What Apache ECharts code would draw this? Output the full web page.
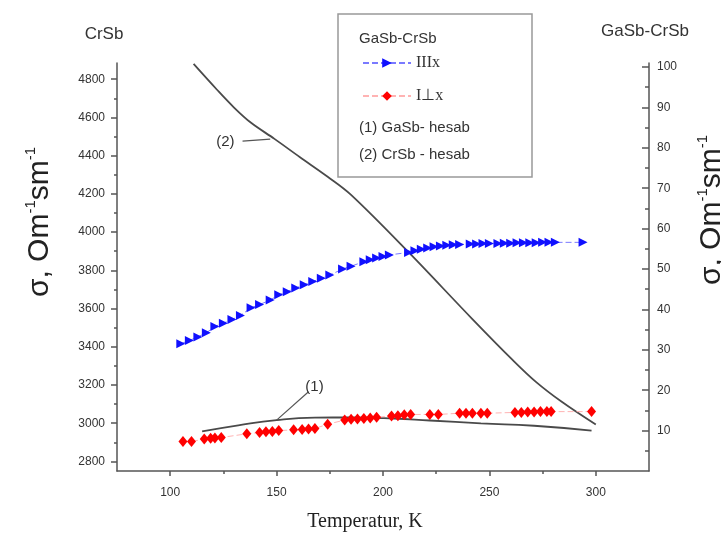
<!DOCTYPE html>
<html>
<head>
<meta charset="utf-8">
<script src="https://cdn.jsdelivr.net/npm/echarts@6/dist/echarts.min.js"></script>
<style>
  html, body { margin: 0; padding: 0; background: #fff; }
  #chart { width: 721px; height: 540px; }
</style>
</head>
<body>
<div id="chart"></div>
<script>
// temperature axis ticks
const xTicks = [100, 150, 200, 250, 300];
const xMinorTicks = [125, 175, 225, 275];
// left axis (CrSb)
const leftTicks = [2800, 3000, 3200, 3400, 3600, 3800, 4000, 4200, 4400, 4600, 4800];
const leftMinorTicks = [2900, 3100, 3300, 3500, 3700, 3900, 4100, 4300, 4500, 4700];
// right axis (GaSb-CrSb)
const rightTicks = [10, 20, 30, 40, 50, 60, 70, 80, 90, 100];
const rightMinorTicks = [5, 15, 25, 35, 45, 55, 65, 75, 85, 95];

// IIIx (blue triangles)
const tBlue = [105, 109, 113, 117, 121, 125, 129, 133, 138, 142, 147, 151, 155, 159, 163, 167, 171, 175,
  181, 185, 191, 194, 197, 200, 203, 212, 215, 218, 221, 224, 227, 230, 233, 236,
  241, 244, 247, 250, 254, 257, 260, 263, 266, 269, 272, 275, 278, 281, 294];
const sBlue = [31.5, 32.3, 33.2, 34.2, 35.8, 36.6, 37.5, 38.5, 40.4, 41.2, 42.3, 43.6, 44.4, 45.3, 46.1, 46.9, 47.7, 48.5,
  50.0, 50.7, 51.8, 52.3, 52.7, 53.1, 53.5, 54.1, 54.5, 54.9, 55.2, 55.5, 55.7, 55.9, 56.0, 56.1,
  56.2, 56.2, 56.3, 56.3, 56.3, 56.4, 56.4, 56.5, 56.5, 56.5, 56.5, 56.6, 56.6, 56.6, 56.6];

// I⊥x (red diamonds)
const tRed = [106, 110, 116, 119, 121, 124, 136, 142, 145, 148, 151, 158, 162, 165, 168, 174,
  182, 185, 188, 191, 194, 197, 204, 207, 210, 213, 222, 226, 236, 239, 242, 246, 249,
  262, 265, 268, 271, 274, 277, 279, 298];
const sRed = [7.3, 7.3, 7.9, 8.1, 8.2, 8.3, 9.2, 9.5, 9.7, 9.8, 10.0, 10.2, 10.3, 10.4, 10.5, 11.6,
  12.6, 12.8, 12.9, 13.0, 13.1, 13.3, 13.6, 13.7, 13.9, 14.0, 14.0, 14.0, 14.3, 14.3, 14.3, 14.3, 14.3,
  14.5, 14.5, 14.6, 14.6, 14.7, 14.7, 14.7, 14.7];

// (1) GaSb - hesab (right axis)
const tCalc1 = [115, 132, 150, 168, 185, 205, 222, 246, 271, 298];
const sCalc1 = [9.8, 11.3, 12.6, 13.2, 13.25, 13.0, 12.5, 11.8, 11.2, 10.0];

// (2) CrSb - hesab (left axis)
const tCalc2 = [111, 122, 130, 138, 149, 161, 174, 185, 212, 242, 261, 272, 284, 300];
const sCalc2 = [4880, 4745, 4652, 4572, 4488, 4392, 4290, 4195, 3895, 3545, 3330, 3215, 3112, 2993];

// annotation pointers
const pointer1 = [[150, 12.6], [165, 19.6]];
const pointer2 = [[134, 4476], [147, 4487]];

const zip = (a, b) => a.map((v, i) => [v, b[i]]);

const axisColor = '#555';
const labelStyle = { fontSize: 12, color: '#333', fontFamily: 'Liberation Sans', formatter: v => String(v) };

const chart = echarts.init(document.getElementById('chart'));

const option = {
  animation: false,
  grid: { left: 117, right: 72, top: 63, bottom: 69 },
  legend: {
    data: ['IIIx', 'I⊥x'],
    orient: 'vertical',
    left: 357,
    top: 50,
    itemWidth: 48,
    itemHeight: 12,
    itemGap: 17,
    textStyle: { fontFamily: 'Liberation Serif', fontSize: 16, color: '#333' }
  },
  xAxis: [
    {
      type: 'value', min: 75, max: 325, position: 'bottom',
      axisLine: { onZero: false, lineStyle: { color: axisColor, width: 1.5 } },
      axisTick: { customValues: xTicks, length: 5, lineStyle: { color: axisColor, width: 1.5 } },
      axisLabel: Object.assign({ customValues: xTicks, margin: 16 }, labelStyle),
      splitLine: { show: false }
    },
    {
      type: 'value', min: 75, max: 325, position: 'bottom',
      axisLine: { show: false, onZero: false },
      axisTick: { customValues: xMinorTicks, length: 3, lineStyle: { color: axisColor, width: 1.5 } },
      axisLabel: { show: false },
      splitLine: { show: false }
    }
  ],
  yAxis: [
    {
      type: 'value', min: 2750, max: 4885, position: 'left',
      axisLine: { show: true, onZero: false, lineStyle: { color: axisColor, width: 1.5 } },
      axisTick: { customValues: leftTicks, length: 6, lineStyle: { color: axisColor, width: 1.5 } },
      axisLabel: Object.assign({ customValues: leftTicks, margin: 12 }, labelStyle),
      splitLine: { show: false }
    },
    {
      type: 'value', min: 2750, max: 4885, position: 'left',
      axisLine: { show: false, onZero: false },
      axisTick: { customValues: leftMinorTicks, length: 3, lineStyle: { color: axisColor, width: 1.5 } },
      axisLabel: { show: false },
      splitLine: { show: false }
    },
    {
      type: 'value', min: 0, max: 101, position: 'right',
      axisLine: { show: true, onZero: false, lineStyle: { color: axisColor, width: 1.5 } },
      axisTick: { inside: true, customValues: rightTicks, length: 7, lineStyle: { color: axisColor, width: 1.5 } },
      axisLabel: Object.assign({ customValues: rightTicks, margin: 8 }, labelStyle),
      splitLine: { show: false }
    },
    {
      type: 'value', min: 0, max: 101, position: 'right',
      axisLine: { show: false, onZero: false },
      axisTick: { inside: true, customValues: rightMinorTicks, length: 4, lineStyle: { color: axisColor, width: 1.5 } },
      axisLabel: { show: false },
      splitLine: { show: false }
    }
  ],
  graphic: [
    { type: 'rect', shape: { x: 338, y: 14, width: 194, height: 163 },
      style: { fill: 'none', stroke: '#999', lineWidth: 1.5 } },
    { type: 'text', x: 359, y: 39, style: { text: 'GaSb-CrSb', fontSize: 15, fill: '#333', fontFamily: 'Liberation Sans', verticalAlign: 'middle' } },
    { type: 'text', x: 359, y: 128, style: { text: '(1) GaSb- hesab', fontSize: 15, fill: '#333', fontFamily: 'Liberation Sans', verticalAlign: 'middle' } },
    { type: 'text', x: 359, y: 155, style: { text: '(2) CrSb - hesab', fontSize: 15, fill: '#333', fontFamily: 'Liberation Sans', verticalAlign: 'middle' } },
    { type: 'text', x: 104, y: 34, style: { text: 'CrSb', fontSize: 17, fill: '#333', fontFamily: 'Liberation Sans', align: 'center', verticalAlign: 'middle' } },
    { type: 'text', x: 645, y: 31, style: { text: 'GaSb-CrSb', fontSize: 17, fill: '#333', fontFamily: 'Liberation Sans', align: 'center', verticalAlign: 'middle' } },
    { type: 'text', x: 365, y: 522, style: { text: 'Temperatur, K', fontSize: 20, fill: '#222', fontFamily: 'Liberation Serif', align: 'center', verticalAlign: 'middle' } },
    { type: 'text', x: 40, y: 222, rotation: Math.PI / 2,
      style: { text: '{a|σ, Om}{s|-1}{a|sm}{s|-1}', align: 'center', verticalAlign: 'middle',
        rich: { a: { fontSize: 30, fill: '#222', fontFamily: 'Liberation Sans', lineHeight: 34 },
                s: { fontSize: 15, fill: '#222', fontFamily: 'Liberation Sans', verticalAlign: 'top', lineHeight: 34 } } } },
    { type: 'text', x: 712, y: 210, rotation: Math.PI / 2,
      style: { text: '{a|σ, Om}{s|-1}{a|sm}{s|-1}', align: 'center', verticalAlign: 'middle',
        rich: { a: { fontSize: 30, fill: '#222', fontFamily: 'Liberation Sans', lineHeight: 34 },
                s: { fontSize: 15, fill: '#222', fontFamily: 'Liberation Sans', verticalAlign: 'top', lineHeight: 34 } } } }
  ],
  series: [
    {
      name: 'IIIx', type: 'line', xAxisIndex: 0, yAxisIndex: 2,
      data: zip(tBlue, sBlue),
      symbol: 'triangle', symbolSize: 9, symbolRotate: -90,
      itemStyle: { color: '#1010ff' },
      lineStyle: { color: '#7a7aff', width: 1, type: [6, 3] },
      z: 3
    },
    {
      name: 'I⊥x', type: 'line', xAxisIndex: 0, yAxisIndex: 2,
      data: zip(tRed, sRed),
      symbol: 'diamond', symbolSize: [9, 11],
      itemStyle: { color: '#ff0000' },
      lineStyle: { color: '#ffb3b3', width: 1, type: [6, 3] },
      z: 3
    },
    {
      name: '(1) GaSb- hesab', type: 'line', xAxisIndex: 0, yAxisIndex: 2,
      data: zip(tCalc1, sCalc1), smooth: 0.5, showSymbol: false, symbol: 'none',
      lineStyle: { color: '#4a4a4a', width: 1.8 },
      markLine: {
        silent: true, symbol: 'none', animation: false,
        lineStyle: { color: '#555', width: 1.2, type: 'solid' },
        label: { show: true, position: 'end', formatter: '(1)', fontSize: 15, color: '#333', fontFamily: 'Liberation Sans', distance: 8 },
        data: [[{ coord: pointer1[0] }, { coord: pointer1[1] }]]
      },
      z: 2
    },
    {
      name: '(2) CrSb - hesab', type: 'line', xAxisIndex: 0, yAxisIndex: 0,
      data: zip(tCalc2, sCalc2), smooth: 0.35, showSymbol: false, symbol: 'none',
      lineStyle: { color: '#4a4a4a', width: 1.8 },
      markLine: {
        silent: true, symbol: 'none', animation: false,
        lineStyle: { color: '#555', width: 1.2, type: 'solid' },
        label: { show: true, position: 'start', formatter: '(2)', fontSize: 15, color: '#333', fontFamily: 'Liberation Sans', distance: 8 },
        data: [[{ coord: pointer2[0] }, { coord: pointer2[1] }]]
      },
      z: 2
    }
  ]
};

chart.setOption(option);
</script>
</body>
</html>
